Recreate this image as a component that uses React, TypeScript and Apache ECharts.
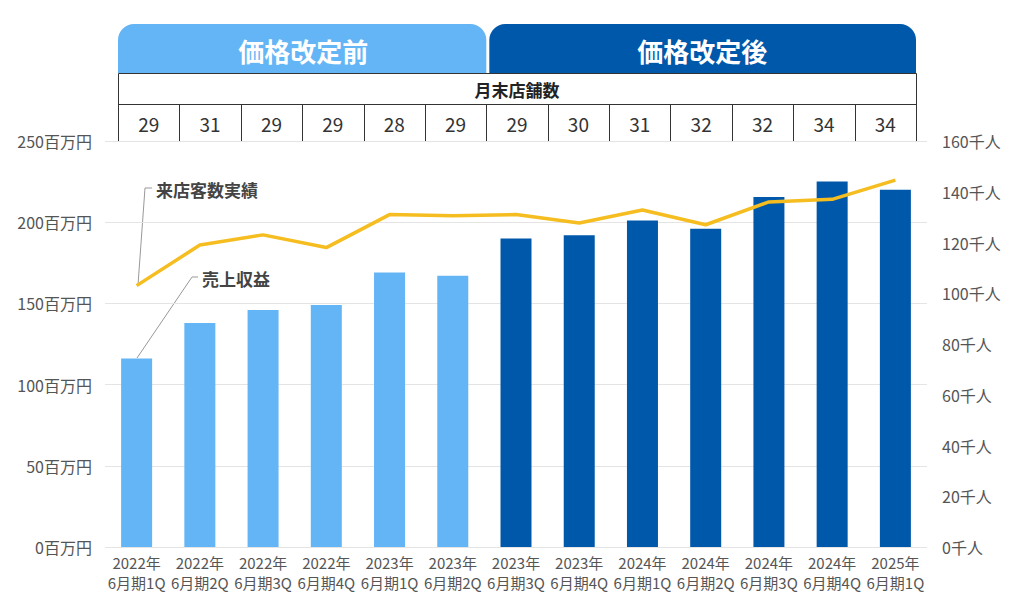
import React, { useEffect, useRef } from "react";
import * as echarts from "echarts";

const categories = [
  "2022年\n6月期1Q", "2022年\n6月期2Q", "2022年\n6月期3Q", "2022年\n6月期4Q",
  "2023年\n6月期1Q", "2023年\n6月期2Q", "2023年\n6月期3Q", "2023年\n6月期4Q",
  "2024年\n6月期1Q", "2024年\n6月期2Q", "2024年\n6月期3Q", "2024年\n6月期4Q",
  "2025年\n6月期1Q",
];
const revenue = [116, 138, 146, 149, 169, 167, 190, 192, 201, 196, 215.5, 225, 220];
const visitors = [103, 119, 123, 118, 131, 130.5, 131, 127.7, 132.8, 127, 136, 137, 144.6];
const storeCounts = [29, 31, 29, 29, 28, 29, 29, 30, 31, 32, 32, 34, 34];
const beforeCount = 6;
const phaseLabels = ["価格改定前", "価格改定後"];
const tableTitle = "月末店舗数";
const seriesNames = ["売上収益", "来店客数実績"];

const LIGHT = "#64B5F6";
const DARK = "#0058AA";
const YELLOW = "#F5BD1F";
const FONT = "'Noto Sans CJK JP', 'Noto Sans', sans-serif";

export default function App() {
  const ref = useRef<HTMLDivElement>(null);
  useEffect(() => {
    const chart = echarts.init(ref.current!, undefined, { renderer: "svg" });
    const tL = 118, tR = 916, tTop = 73, tMid = 104, tBot = 141;
    const colW = (tR - tL) / storeCounts.length;
    const splitX = tL + colW * beforeCount + 2;
    const graphic: any[] = [
      { type: "rect", shape: { x: tL, y: 24, width: splitX - tL - 2, height: tTop - 24, r: [16, 16, 0, 0] }, style: { fill: LIGHT } },
      { type: "rect", shape: { x: splitX + 1, y: 24, width: tR - splitX - 1, height: tTop - 24, r: [16, 16, 0, 0] }, style: { fill: DARK } },
      { type: "text", x: (tL + splitX) / 2, y: 50, style: { text: phaseLabels[0], fill: "#fff", font: `bold 26px ${FONT}`, align: "center", verticalAlign: "middle" } },
      { type: "text", x: (splitX + tR) / 2, y: 50, style: { text: phaseLabels[1], fill: "#fff", font: `bold 26px ${FONT}`, align: "center", verticalAlign: "middle" } },
      { type: "rect", shape: { x: tL + 0.5, y: tTop + 0.5, width: tR - tL, height: tBot - tTop }, style: { fill: "#fff", stroke: "#333", lineWidth: 1 } },
      { type: "line", shape: { x1: tL, y1: tMid + 0.5, x2: tR, y2: tMid + 0.5 }, style: { stroke: "#333", lineWidth: 1 } },
      { type: "text", x: (tL + tR) / 2, y: (tTop + tMid) / 2 + 1, style: { text: tableTitle, fill: "#222", font: `bold 17px ${FONT}`, align: "center", verticalAlign: "middle" } },
    ];
    storeCounts.forEach((v, i) => {
      if (i > 0) {
        const x = Math.round(tL + colW * i) + 0.5;
        graphic.push({ type: "line", shape: { x1: x, y1: tMid, x2: x, y2: tBot }, style: { stroke: "#333", lineWidth: 1 } });
      }
      graphic.push({ type: "text", x: tL + colW * (i + 0.5), y: (tMid + tBot) / 2 + 1, style: { text: String(v), fill: "#333", font: `19px ${FONT}`, align: "center", verticalAlign: "middle" } });
    });
    graphic.push(
      { type: "polyline", shape: { points: [[138, 285], [145, 188], [152, 188]] }, style: { stroke: "#999", lineWidth: 1, fill: null } },
      { type: "text", x: 156, y: 189, style: { text: seriesNames[1], fill: "#444", font: `bold 17px ${FONT}`, verticalAlign: "middle" } },
      { type: "polyline", shape: { points: [[137, 358], [192, 277], [198, 277]] }, style: { stroke: "#999", lineWidth: 1, fill: null } },
      { type: "text", x: 202, y: 278, style: { text: seriesNames[0], fill: "#444", font: `bold 17px ${FONT}`, verticalAlign: "middle" } },
    );

    chart.setOption({
      animation: false,
      textStyle: { fontFamily: FONT },
      grid: { left: 105, right: 97, top: 141, bottom: 45, containLabel: false },
      xAxis: {
        type: "category",
        data: categories,
        axisLine: { show: false },
        axisTick: { show: false },
        axisLabel: { color: "#555", fontSize: 15, lineHeight: 20, margin: 5, interval: 0 },
      },
      yAxis: [
        {
          type: "value", min: 0, max: 250, interval: 50,
          axisLabel: { formatter: "{value}百万円", color: "#555", fontSize: 16, margin: 13 },
          splitLine: { lineStyle: { color: "#e4e4e4" } },
          axisLine: { show: false }, axisTick: { show: false },
        },
        {
          type: "value", min: 0, max: 160, interval: 20,
          axisLabel: { formatter: "{value}千人", color: "#555", fontSize: 16, margin: 15 },
          splitLine: { show: false },
          axisLine: { show: false }, axisTick: { show: false },
        },
      ],
      series: [
        {
          name: seriesNames[0], type: "bar", yAxisIndex: 0, barWidth: 31,
          data: revenue.map((v, i) => ({ value: v, itemStyle: { color: i < beforeCount ? LIGHT : DARK } })),
        },
        {
          name: seriesNames[1], type: "line", yAxisIndex: 1, data: visitors,
          symbol: "none", lineStyle: { color: YELLOW, width: 3.5 }, itemStyle: { color: YELLOW }, z: 5,
        },
      ],
      graphic,
    });
    return () => chart.dispose();
  }, []);
  return <div ref={ref} style={{ position: "fixed", left: 0, top: 0, width: 1024, height: 592, background: "#fff" }} />;
}
